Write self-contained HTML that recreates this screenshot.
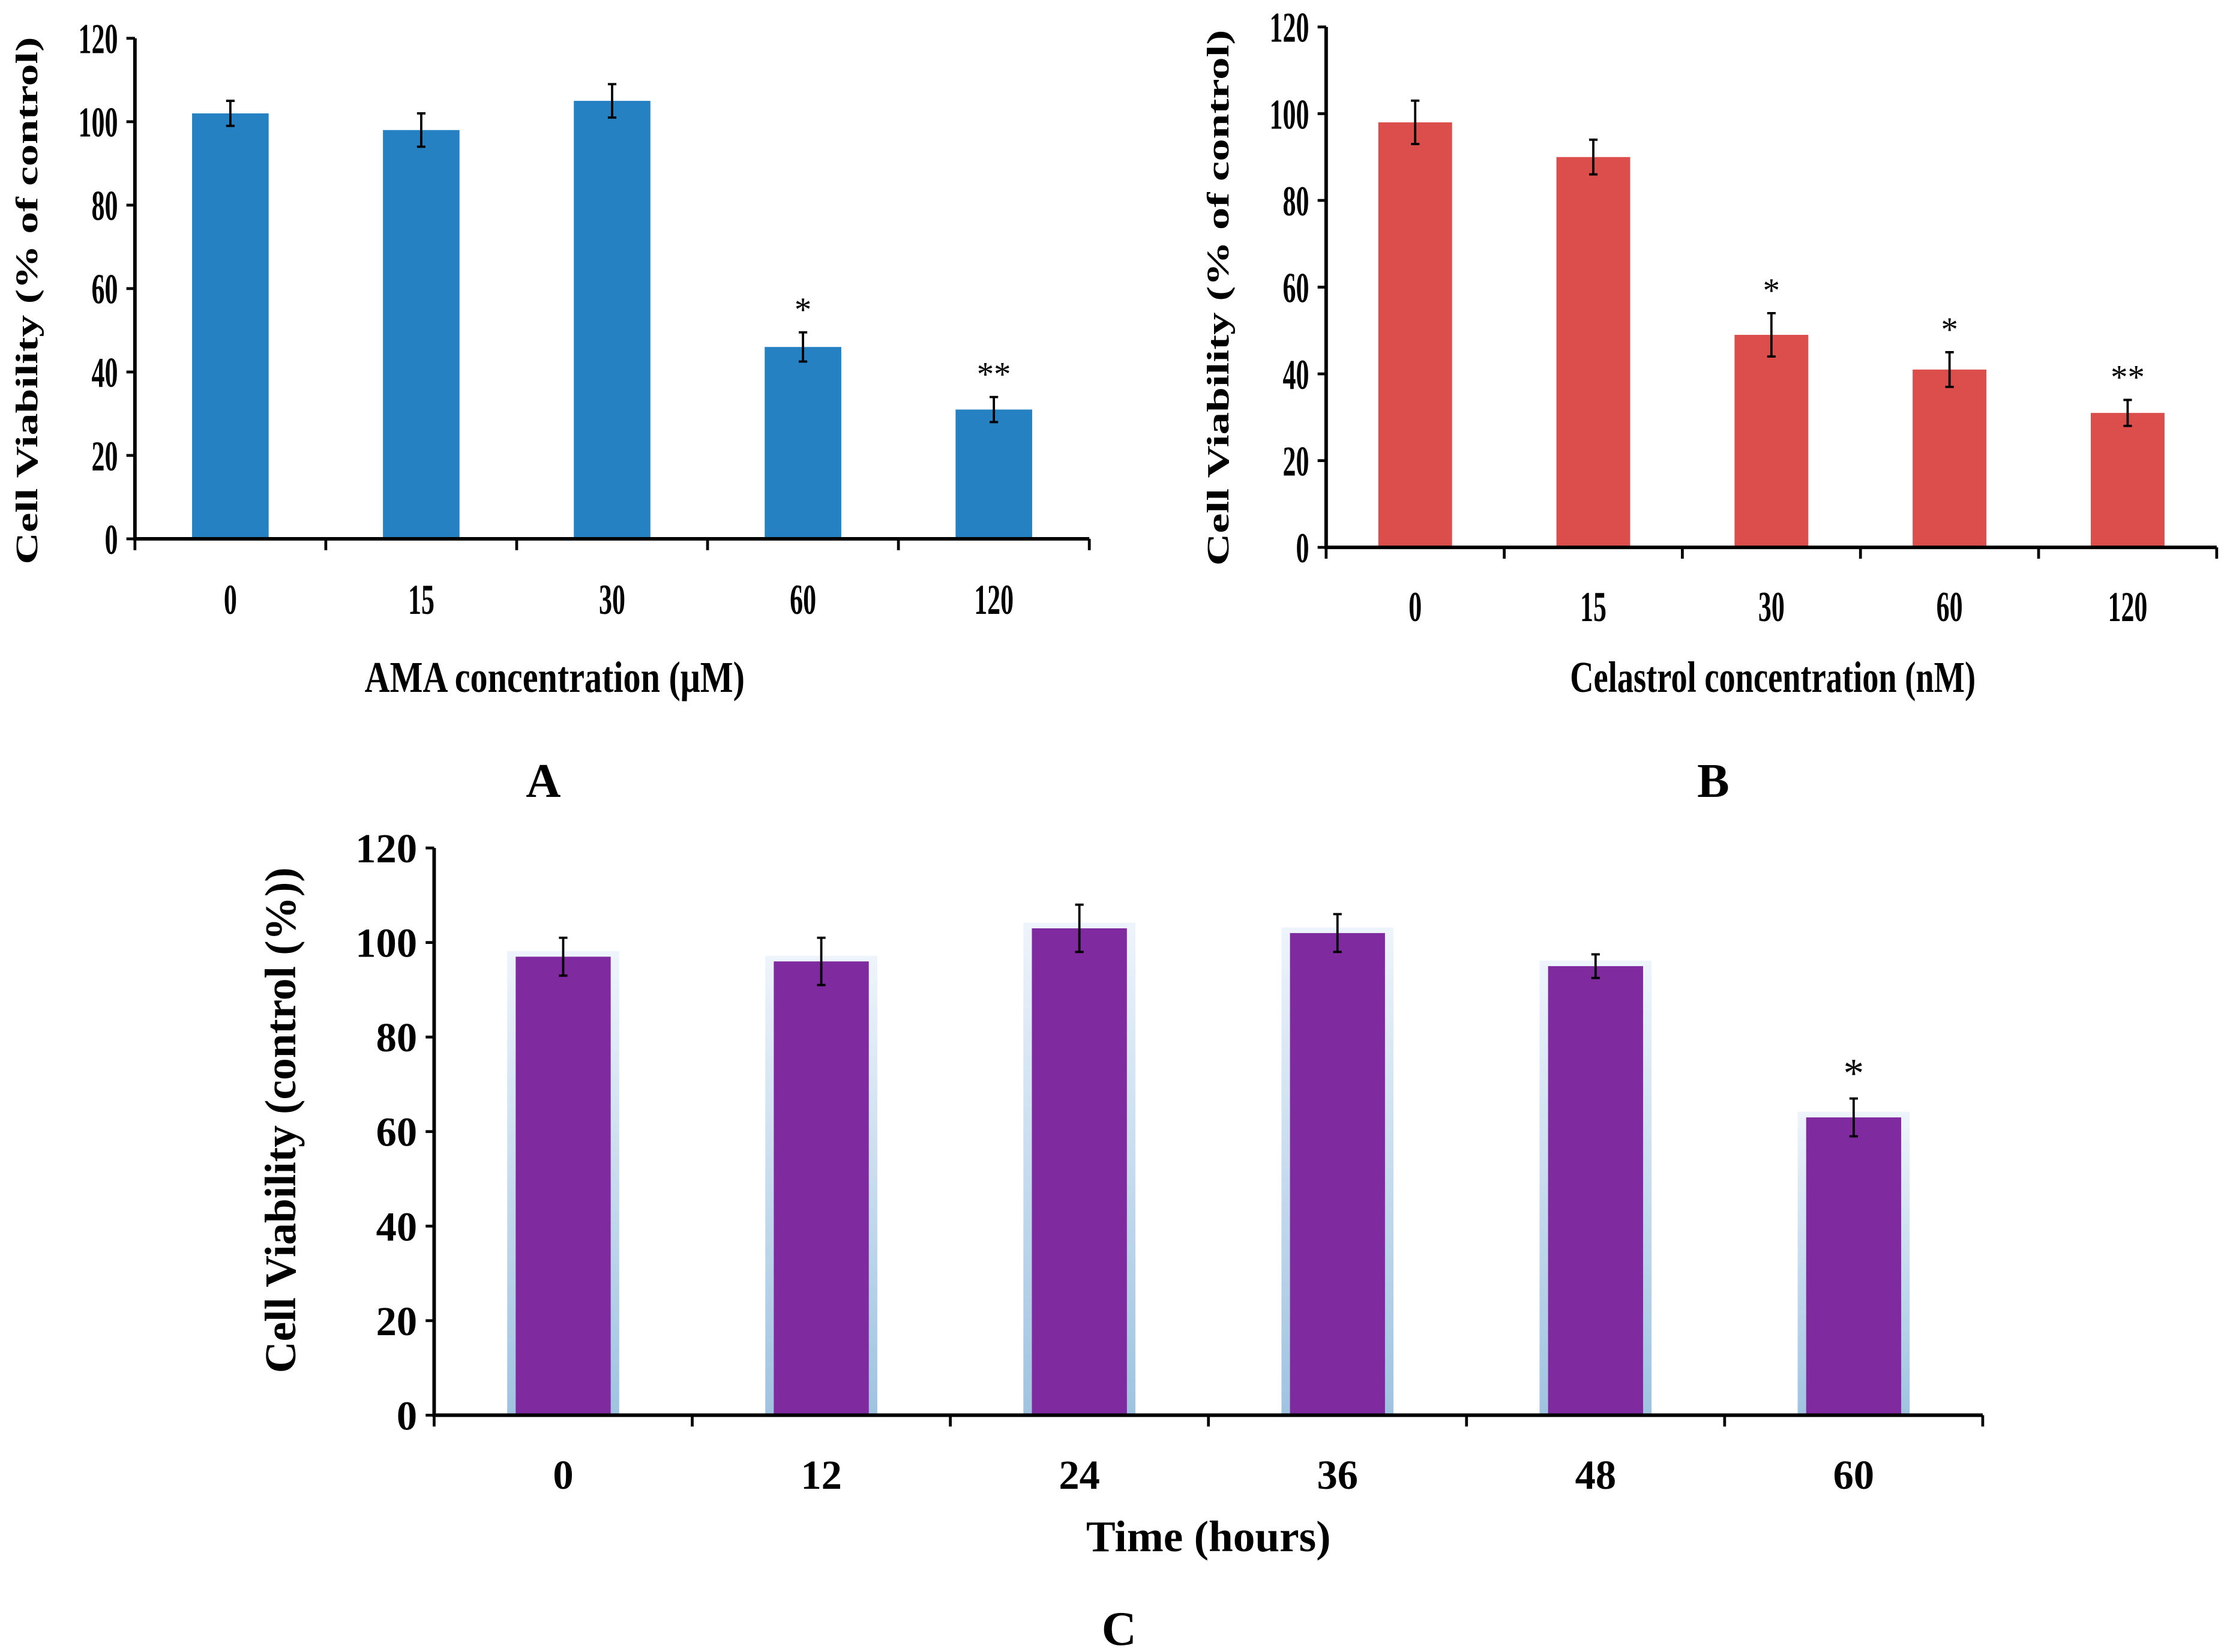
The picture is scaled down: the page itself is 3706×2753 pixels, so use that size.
<!DOCTYPE html>
<html><head><meta charset="utf-8"><style>html,body{margin:0;padding:0;background:#fff}svg{display:block}</style></head>
<body>
<svg id="fig" width="3706" height="2753" viewBox="0 0 1568 1165" xmlns="http://www.w3.org/2000/svg" font-family="'Liberation Serif', serif" font-weight="bold">
<defs>
<linearGradient id="glow" x1="0" y1="0" x2="0" y2="1"><stop offset="0" stop-color="#eef4fb"/><stop offset="1" stop-color="#9fc3e0"/></linearGradient>
</defs>
</svg>
<script>
const catsA=['0','15','30','60','120'];
const valsA=[102,98,105,46,31];
const errA=[3,4,4,3.5,3];
const sigA=['','','','*','**'];
const catsB=['0','15','30','60','120'];
const valsB=[98,90,49,41,31];
const errB=[5,4,5,4,3];
const sigB=['','','*','*','**'];
const catsC=['0','12','24','36','48','60'];
const valsC=[97,96,103,102,95,63];
const errC=[4,5,5,4,2.5,4];
const sigC=['','','','','','*'];
const ticks=[0,20,40,60,80,100,120];
const NS='http://www.w3.org/2000/svg';
const svg=document.getElementById('fig');
function mk(tag,attrs,parent){const e=document.createElementNS(NS,tag);for(const k in attrs)e.setAttribute(k,attrs[k]);(parent||svg).appendChild(e);return e;}
function txt(g,x,y,s,fs,anchor,sx,rot){
  const t=mk('text',{x:0,y:0,'text-anchor':anchor,'font-size':fs,transform:`translate(${x},${y}) rotate(${rot||0}) scale(${sx},1)`},g);
  t.textContent=s;return t;
}
function chart(o){
  const g=mk('g',{});
  
  
  const y=v=>o.y0-(v/120)*(o.y0-o.y120);
  const bw=(o.x1-o.x0)/o.cats.length;
  const x=i=>o.x0+bw*(i+0.5);
  o.vals.forEach((v,i)=>{
    if(o.glow){const gl=mk('rect',{x:x(i)-o.barW/2-6,y:y(v)-4,width:o.barW+12,height:o.y0-y(v)+4,fill:'url(#glow)'},g);
      }
    const r=mk('rect',{x:x(i)-o.barW/2,y:y(v),width:o.barW,height:o.y0-y(v),fill:o.color},g);
    
    
    const e=o.errs[i],cx=x(i);
    const eb=mk('path',{d:`M${cx} ${y(v+e)}V${y(v-e)}M${cx-3} ${y(v+e)}H${cx+3}M${cx-3} ${y(v-e)}H${cx+3}`,stroke:'#000','stroke-width':1.6,fill:'none'},g);
    
    
    if(o.sig[i]){const s=mk('text',{x:cx,y:y(v+e)-8,'text-anchor':'middle','font-size':o.sfs,'font-weight':'normal'},g);s.textContent=o.sig[i];
      }
    const t=txt(g,cx,o.labY,o.cats[i],o.fs,'middle',o.sx);
    
  });
  const ax=mk('path',{d:`M${o.x0} ${o.y120}V${o.y0}H${o.x1}`,stroke:'#000','stroke-width':2.5,fill:'none'},g);
  
  for(let i=0;i<=o.cats.length;i++){mk('path',{d:`M${o.x0+bw*i} ${o.y0}v8`,stroke:'#000','stroke-width':2},g);}
  ticks.forEach(t=>{
    mk('path',{d:`M${o.x0-6} ${y(t)}H${o.x0}`,stroke:'#000','stroke-width':2},g);
    const l=txt(g,o.x0-12,y(t)+o.fs*0.35,String(t),o.fs,'end',o.sx);
    
  });
  const xt=mk('text',{x:o.xtX,y:o.xtY,'text-anchor':'middle','font-size':o.tfs},g);xt.textContent=o.xtitle;
  if(o.xtLen){xt.setAttribute('textLength',o.xtLen);xt.setAttribute('lengthAdjust','spacingAndGlyphs');}
  
  const yt=mk('text',{x:0,y:0,'text-anchor':'middle','font-size':o.yfs,transform:`translate(${o.ytX},${o.ytY}) rotate(-90)`},g);yt.textContent=o.ytitle;
  if(o.ytLen){yt.setAttribute('textLength',o.ytLen);yt.setAttribute('lengthAdjust','spacingAndGlyphs');}
  
  const pl=mk('text',{x:o.plX,y:o.plY,'text-anchor':'middle','font-size':34},g);pl.textContent=o.panel;
  
}
chart({name:'chart-a',cats:catsA,vals:valsA,errs:errA,sig:sigA,x0:95,x1:768,y0:380,y120:27,barW:54,color:'#2581c1',labY:433,fs:30,sx:0.62,sfs:24,xtitle:'AMA concentration (μM)',xtX:391,xtY:488,tfs:31,xtLen:268,ytitle:'Cell Viability  (% of control)',ytX:26,ytY:212,yfs:22,ytLen:372,panel:'A',plX:383,plY:562});
chart({name:'chart-b',cats:catsB,vals:valsB,errs:errB,sig:sigB,x0:935,x1:1563,y0:386,y120:19,barW:52,color:'#dc4e4b',labY:438,fs:30,sx:0.62,sfs:24,xtitle:'Celastrol concentration (nM)',xtX:1250,xtY:488,tfs:31,xtLen:286,ytitle:'Cell Viability  (% of control)',ytX:866,ytY:210,yfs:22,ytLen:378,panel:'B',plX:1208,plY:562});
chart({name:'chart-c',cats:catsC,vals:valsC,errs:errC,sig:sigC,x0:306,x1:1398,y0:998,y120:598,barW:67,color:'#7f2a9f',glow:true,labY:1050,fs:29,sx:1,sfs:29,xtitle:'Time (hours)',xtX:852,xtY:1094,tfs:31,ytitle:'Cell Viability (control (%))',ytX:208,ytY:790,yfs:31,panel:'C',plX:789,plY:1160});
</script>
</body></html>
